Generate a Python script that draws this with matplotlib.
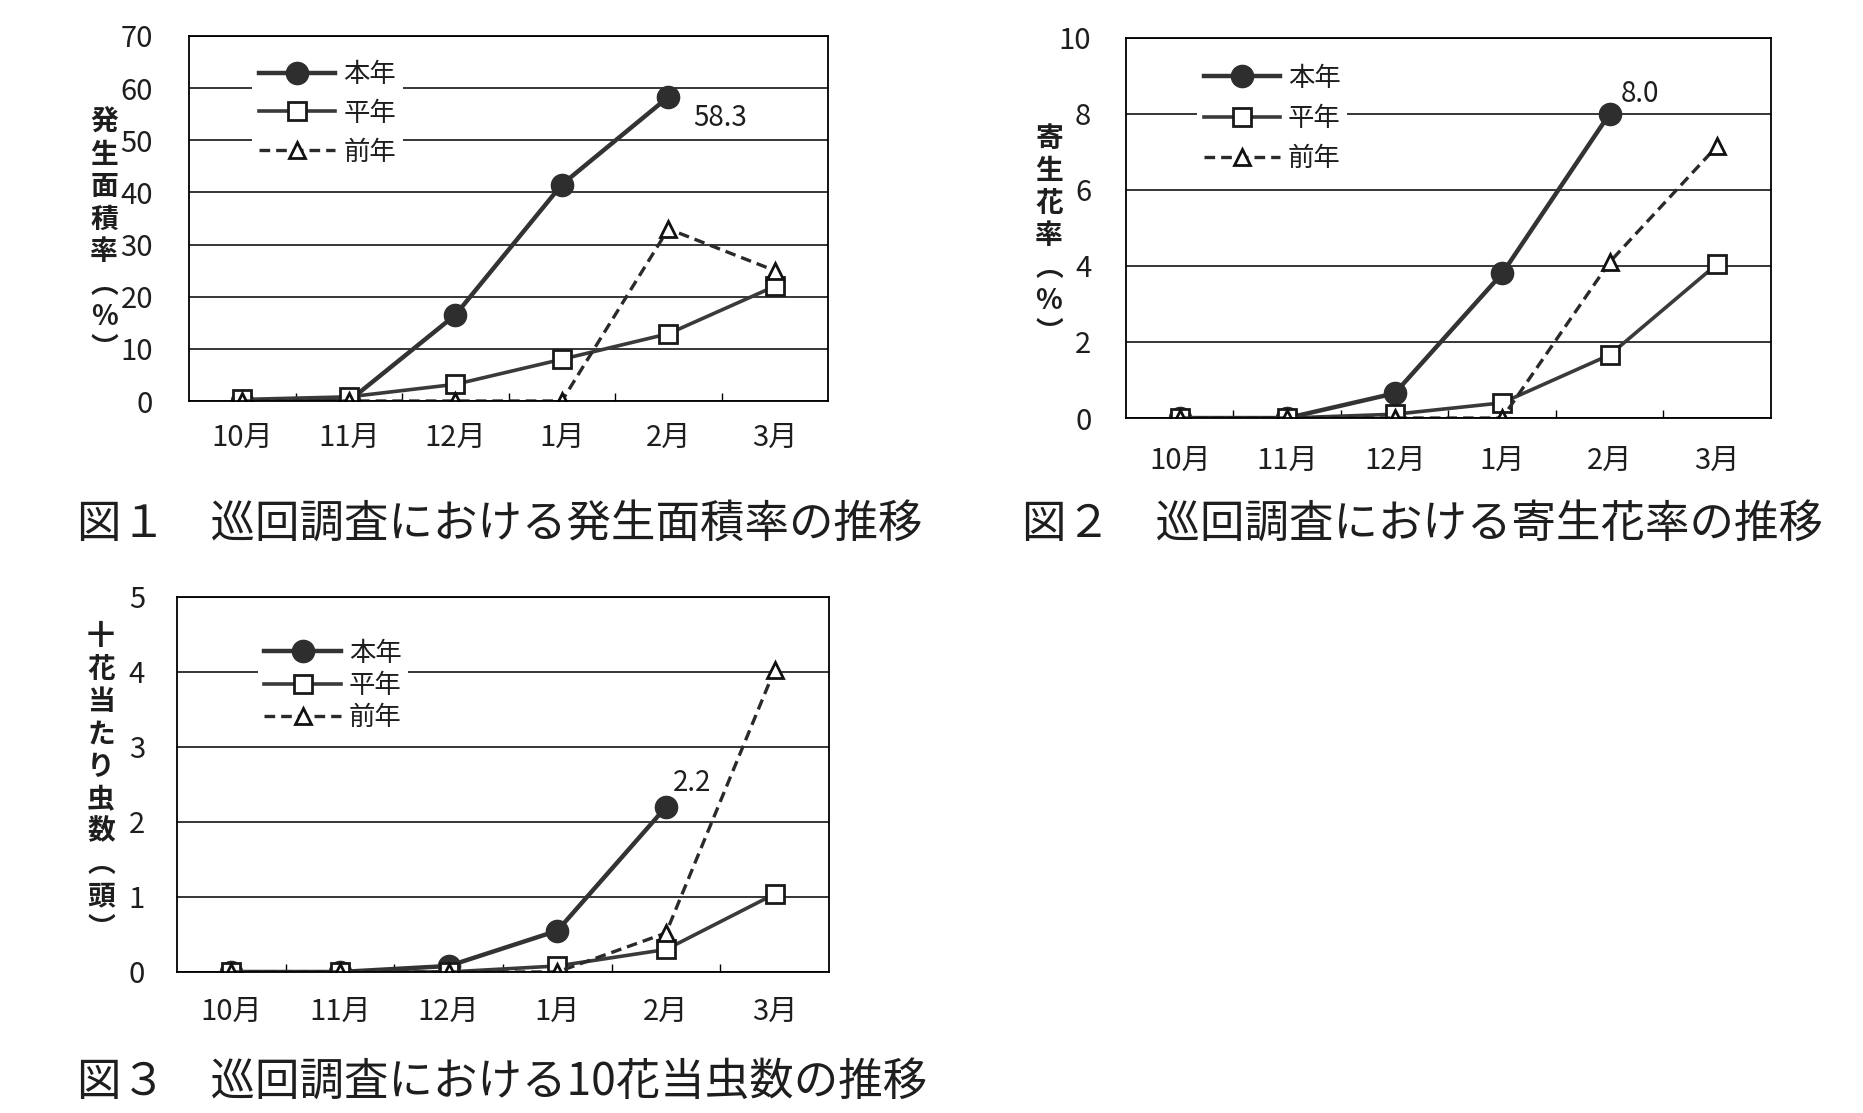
import matplotlib
matplotlib.use("Agg")
import matplotlib.pyplot as plt
import numpy as np

months = ["10月", "11月", "12月", "1月", "2月", "3月"]
series_names = ["本年", "平年", "前年"]

# 図1 発生面積率 (%)
area_this = [0, 0, 16.5, 41.5, 58.3]
area_avg = [0.3, 0.8, 3.2, 8.0, 12.9, 22.0]
area_prev = [0, 0, 0, 0, 33, 25]

# 図2 寄生花率 (%)
para_this = [0, 0, 0.65, 3.8, 8.0]
para_avg = [0, 0, 0.1, 0.4, 1.66, 4.05]
para_prev = [0, 0, 0, 0, 4.1, 7.15]

# 図3 10花当たり虫数 (頭)
bug_this = [0, 0, 0.08, 0.55, 2.2]
bug_avg = [0, 0, 0, 0.08, 0.3, 1.04]
bug_prev = [0, 0, 0, 0, 0.52, 4.03]

NUM_FONT = ["Liberation Sans Narrow", "Noto Sans CJK JP", "DejaVu Sans"]
JP_FONT = ["Noto Sans CJK JP", "DejaVu Sans"]
plt.rcParams["font.family"] = JP_FONT

INK = "#1e1e1e"

fig = plt.figure(figsize=(18.63, 11.13), dpi=100)


def draw(rect, this, avg, prev, ymax, ystep, ypad, xpad, leg_anchor, leg_space,
         note_off):
    ax = fig.add_axes(rect)
    x = np.arange(len(months))
    ax.plot(x[:len(this)], this, color="#333333", lw=3.2, marker="o", ms=16,
            mfc="#2e2e2e", mec="#2e2e2e", label=series_names[0], zorder=3)
    ax.plot(x[:len(avg)], avg, color="#3a3a3a", lw=2.6, marker="s", ms=13.5,
            mfc="white", mec="#1a1a1a", mew=2.0, label=series_names[1], zorder=4)
    ax.plot(x[:len(prev)], prev, color="#2a2a2a", lw=2.4, ls=(0, (3.2, 1.8)),
            marker="^", ms=11, mfc="white", mec="#111111", mew=2.0,
            label=series_names[2], zorder=5)

    ax.set_xlim(-0.5, len(months) - 0.5)
    ax.set_ylim(0, ymax)
    ax.set_yticks(np.arange(0, ymax + ystep / 2, ystep))
    ax.set_xticks(x)
    ax.set_xticklabels(months)
    ax.set_xticks(np.arange(0.5, len(months) - 1, 1), minor=True)
    ax.tick_params(axis="x", which="major", length=0, pad=xpad)
    ax.tick_params(axis="x", which="minor", length=6, width=1, direction="in")
    ax.tick_params(axis="y", length=0, pad=ypad)
    for lab in ax.get_xticklabels() + ax.get_yticklabels():
        lab.set_family(NUM_FONT)
        lab.set_fontsize(21)
        lab.set_color(INK)
    ax.grid(axis="y", color="black", lw=1.1)
    ax.set_axisbelow(True)
    for s in ax.spines.values():
        s.set_color("black")
        s.set_linewidth(1.3)
        s.set_zorder(10)

    leg = ax.legend(loc="upper left", bbox_to_anchor=leg_anchor, borderaxespad=0,
                    frameon=True, fancybox=False, edgecolor="none",
                    facecolor="white", framealpha=1,
                    handlelength=2.9, handletextpad=0.3, borderpad=0.25,
                    labelspacing=leg_space, prop={"family": JP_FONT, "size": 19})
    leg.set_zorder(6)
    for t in leg.get_texts():
        t.set_color(INK)

    last = len(this) - 1
    ax.annotate(f"{this[last]:.1f}", xy=(last, this[last]), xytext=note_off,
                textcoords="offset points", ha="center", va="center",
                fontsize=20, family=NUM_FONT, color=INK)
    return ax


draw([0.1015, 0.6397, 0.343, 0.328], area_this, area_avg, area_prev, 70, 10,
     26, 16, (0.099, 0.950), 0.45, (37, -15))
draw([0.6044, 0.6244, 0.3462, 0.3419], para_this, para_avg, para_prev, 10, 2,
     25, 20, (0.110, 0.946), 0.5, (22, 14))
draw([0.095, 0.1267, 0.35, 0.337], bug_this, bug_avg, bug_prev, 5, 1,
     23, 18, (0.124, 0.904), 0.2, (19, 17))

# vertical y-axis titles
ylabels = [
    (104, 236, "発生面積率︵%︶"),
    (1049, 236, "寄生花率︵%︶"),
    (101, 783, "十花当たり虫数︵頭︶"),
]
for px, py, s in ylabels:
    fig.text(px / 1863, 1 - py / 1113, "\n".join(s), ha="center", va="center",
             fontsize=20, linespacing=1.2, color=INK, fontweight="bold",
             family=JP_FONT)

captions = [
    (77, 525, "図１　巡回調査における発生面積率の推移"),
    (1022, 525, "図２　巡回調査における寄生花率の推移"),
    (77, 1083, "図３　巡回調査における10花当虫数の推移"),
]
for px, py, s in captions:
    fig.text(px / 1863, 1 - py / 1113, s, ha="left", va="center",
             fontsize=32, color=INK)

fig.savefig("out.png", dpi=100, facecolor="white")
